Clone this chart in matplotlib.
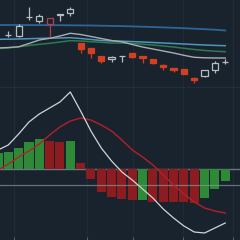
import numpy as np
import matplotlib
matplotlib.use("Agg")
import matplotlib.pyplot as plt
from matplotlib.patches import Rectangle

# candle data (one bar per session), price units
opens  = [55, 54, 73, 69, 66, 75, 77, 47, 42, 34, 31.5, 34, 37, 34, 31, 25, 22, 21, 12, 14, 20, 28]
closes = [55.3, 64, 73.3, 74, 72, 76, 81, 41, 37, 29, 33.5, 34.3, 33, 32, 27, 23, 20, 16, 10, 20, 27, 28.3]
highs  = [59, 66, 83, 76, 72, 76, 83, 47, 42, 34, 34, 34.3, 37.5, 34.5, 31, 26, 22, 21, 13, 20.5, 29, 31]
lows   = [53, 53, 70, 67, 53, 69, 74, 37, 32, 27, 28, 28, 32, 27, 26, 20, 18, 16, 7, 13, 17, 26]
# candle style: 'up' hollow gray, 'dn' filled red, 'hr' hollow red
kinds  = ['up', 'up', 'up', 'up', 'hr', 'up', 'up', 'dn', 'dn', 'dn', 'up', 'up',
          'dn', 'dn', 'dn', 'dn', 'dn', 'dn', 'dn', 'up', 'up', 'up']

# moving averages, from index -1 to 21
ma_slow   = [65, 65, 65, 64.9, 64.9, 64.8, 64.8, 64.7, 64.6, 64.5, 64.3, 64.1,
             63.9, 63.6, 63.3, 63, 62.6, 62.2, 61.8, 61.3, 60.8, 60.3, 59.5]
ma_mid    = [50.7, 50.8, 51, 51.3, 51.6, 51.8, 52, 52.3, 51.5, 50.5, 49.5, 49,
             48.8, 48.4, 48, 47.5, 47, 46.5, 46, 45.5, 45, 44.6, 44.3]
ma_green  = [41.5, 42, 43.2, 44.5, 45.7, 46.7, 48, 49.3, 49, 48.3, 47.7, 47,
             47, 46.5, 45.8, 45, 44, 43, 41.7, 40.5, 39.5, 38.8, 38.3]
ma_fast   = [42, 42.5, 43.2, 46.5, 50, 51.7, 54, 56.7, 55.5, 53.5, 51.5, 49.5,
             48.2, 45.5, 43, 41, 39, 37, 34.7, 32.7, 32.2, 32, 32]

# MACD panel, index -1 to 21
macd   = [19, 24, 35, 47, 55, 61, 67, 77, 58, 38, 21, 8, -3, -11, -20, -29,
          -40, -49, -57, -63, -64, -59, -54]
signal = [-1, 5, 12, 18, 25, 34, 42, 48, 51, 49, 44, 38, 29, 19, 12, 4,
          -6, -16, -25, -33, -39, -42, -44]
hist   = [16, 17, 21, 27, 30, 28, 27, 28, 6, -10, -23, -28, -30, -31, -31,
          -33, -33, -33, -33, -34, -29, -20, -12]
hist_col = ['g', 'g', 'g', 'g', 'g', 'r', 'r', 'g', 'r', 'r', 'r', 'r', 'r',
            'r', 'g', 'r', 'r', 'r', 'r', 'r', 'g', 'g', 'g']

grid_x = [0.55, 7.62, 12.07, 16.91, 21.75]
level_line = -16

BG = "#19232e"
GRID = "#212b37"
SEP = "#55606b"

fig = plt.figure(figsize=(2.4, 2.4), dpi=100, facecolor=BG)
ax1 = fig.add_axes([0, 1 - 88 / 240, 1, 88 / 240])
ax2 = fig.add_axes([0, 0, 1, 1 - 88 / 240])

xlim = (-0.803, 22.43)
for ax in (ax1, ax2):
    ax.set_facecolor(BG)
    ax.set_xlim(*xlim)
    for s in ax.spines.values():
        s.set_visible(False)
    ax.set_xticks([])
    ax.set_yticks([])
    for gx in grid_x:
        ax.axvline(gx, color=GRID, lw=0.8, zorder=0)

# ---- top panel: candles + averages
ax1.set_ylim(2, 90)
xs = np.arange(-1, 22)
ax1.plot(xs, ma_slow, color="#2c6596", lw=1.3, zorder=2)
ax1.plot(xs, ma_mid, color="#4f95bd", lw=1.1, zorder=2)
ax1.plot(xs, ma_green, color="#2f7a4c", lw=1.1, zorder=2)
ax1.plot(xs, ma_fast, color="#a9adb0", lw=1.0, zorder=2)

w = 0.6
for i, (o, c, h, l, k) in enumerate(zip(opens, closes, highs, lows, kinds)):
    if k == 'dn':
        col, face = "#d4401f", "#d4401f"
    elif k == 'hr':
        col, face = "#b0404c", BG
    else:
        col, face = "#b8bcbf", BG
    lo, hi = min(o, c), max(o, c)
    ax1.vlines(i, l, lo, color=col, lw=0.9, zorder=3)
    ax1.vlines(i, hi, h, color=col, lw=0.9, zorder=3)
    ax1.add_patch(Rectangle((i - w / 2, lo), w, max(hi - lo, 0.4),
                            facecolor=face, edgecolor=col, lw=0.9, zorder=4))

ax1.axhline(2.3, color=SEP, lw=1.0, zorder=5)

# ---- bottom panel: MACD
ax2.set_ylim(-71, 81)
colors = ["#2e8a36" if c == 'g' else "#8c1c20" for c in hist_col]
ax2.bar(xs, hist, width=0.88, color=colors, zorder=2)
ax2.axhline(0, color="#6d7680", lw=1.0, zorder=1)
ax2.axhline(level_line, color="#8a939c", lw=0.9, alpha=0.7, zorder=3)
ax2.plot(xs, signal, color="#b3202c", lw=1.0, zorder=4)
ax2.plot(xs, macd, color="#d2d4d6", lw=0.9, zorder=5)
ax2.set_xticks(grid_x)
ax2.tick_params(axis='x', direction='in', length=2, color="#55606b",
                labelbottom=False, pad=0)

fig.savefig("out.png", dpi=100, facecolor=BG)
